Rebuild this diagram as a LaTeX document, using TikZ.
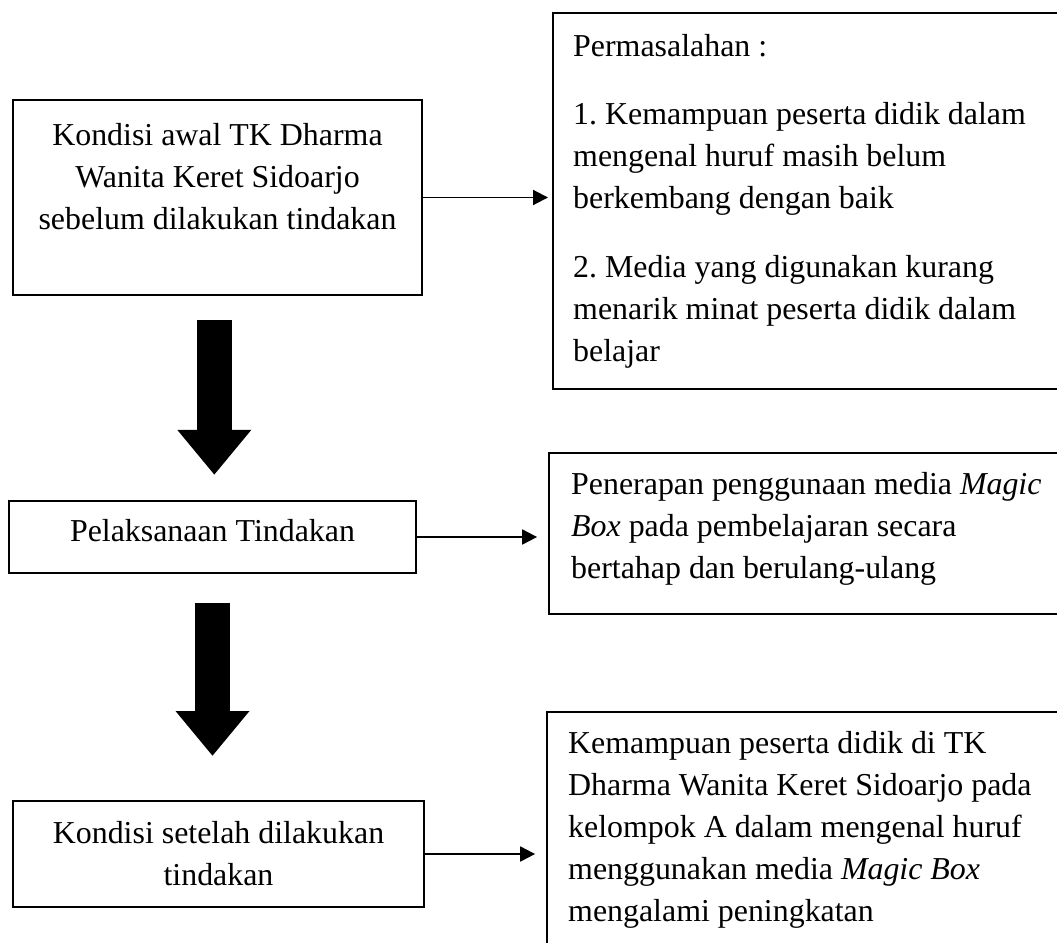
\documentclass[tikz,border=0pt]{standalone}
\usepackage{fontspec}
\setmainfont{Liberation Serif}
\usetikzlibrary{arrows.meta,positioning}
\frenchspacing
\newlength{\px}
\setlength{\px}{0.3762pt}
\tikzset{
  box/.style={draw, line width=0.9pt, inner sep=0pt, font=\fontsize{12pt}{15.8pt}\selectfont},
  leftbox/.style={box, anchor=north west, align=flush left, text width=490\px},
  flow/.style={line width=0.75pt, -{Triangle[length=5.6pt,width=5.6pt]}},
  bigarrow/.style={line width=13.2pt, -{Triangle[length=16.9pt,width=26.7pt]}},
}

\begin{document}
\begin{tikzpicture}[x=0.3762pt,y=-0.3762pt]
\useasboundingbox (0,0) rectangle (1057,942);
\clip (0,0) rectangle (1057,942);
% left column
\node[box, minimum width=409\px, minimum height=195\px, align=center] (awal) at (217.5,197.5)
  {Kondisi awal TK Dharma\\ Wanita Keret Sidoarjo\\ sebelum dilakukan tindakan\\ \mbox{}};
\node[box, minimum width=407\px, minimum height=72\px, text depth=5.3pt] (pelaksanaan) at (212.5,537)
  {Pelaksanaan Tindakan};
\node[box, minimum width=411\px, minimum height=106\px, align=center] (setelah) at (218.5,854)
  {Kondisi setelah dilakukan\\ tindakan};
% right column
\node[leftbox, inner xsep=20\px, minimum height=376\px] (masalah) at (552,12)
  {Permasalahan :\\[10pt]
   1. Kemampuan peserta didik dalam\\ mengenal huruf masih belum\\ berkembang dengan baik\\[10pt]
   2. Media yang digunakan kurang\\ menarik minat peserta didik dalam\\ belajar};
\node[leftbox, inner xsep=22\px, minimum height=161\px] (penerapan) at (548,452)
  {Penerapan penggunaan media \textit{Magic}\\ \textit{Box} pada pembelajaran secara\\ bertahap dan berulang-ulang\rule[-6.4pt]{0pt}{6.4pt}};
\node[leftbox, inner xsep=21\px, minimum height=235\px] (kemampuan) at (546,711)
  {Kemampuan peserta didik di TK\\ Dharma Wanita Keret Sidoarjo pada\\ kelompok A dalam mengenal huruf\\
   menggunakan media \textit{Magic Box}\\ mengalami peningkatan};
% arrows
\draw[flow, shorten >=1.5pt] (awal.east) -- (awal.east -| masalah.west);
\draw[flow, shorten >=4.1pt] (pelaksanaan.east) -- (pelaksanaan.east -| penerapan.west);
\draw[flow, shorten >=4.1pt] (setelah.east) -- (setelah.east -| kemampuan.west);
\draw[bigarrow, shorten <=9pt, shorten >=9.4pt] ([xshift=-1.2pt]awal.south) -- ([xshift=-1.2pt]awal.south |- pelaksanaan.north);
\draw[bigarrow, shorten <=10.9pt, shorten >=16.5pt] (pelaksanaan.south) -- (pelaksanaan.south |- setelah.north);
\end{tikzpicture}
\end{document}
